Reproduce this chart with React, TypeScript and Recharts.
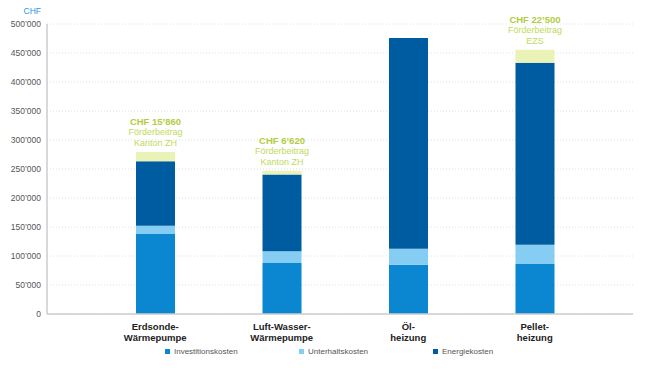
import React from 'react';
import { BarChart, Bar, XAxis, YAxis, CartesianGrid, LabelList, Label } from 'recharts';

const categories = ['Erdsonde-|Wärmepumpe', 'Luft-Wasser-|Wärmepumpe', 'Öl-|heizung', 'Pellet-|heizung'];
const investitionskosten = [138000, 88000, 85000, 86000];
const unterhaltskosten = [14000, 20000, 27500, 33500];
const energiekosten = [111500, 132500, 363500, 313500];
const foerderbeitrag = [15860, 6620, 0, 22500];
const foerderQuelle = ['Kanton ZH', 'Kanton ZH', '', 'EZS'];
const yTicks = [0, 50000, 100000, 150000, 200000, 250000, 300000, 350000, 400000, 450000, 500000];

const data = categories.map((name, i) => ({
  name,
  invest: investitionskosten[i],
  unterhalt: unterhaltskosten[i],
  energie: energiekosten[i],
  foerder: foerderbeitrag[i],
}));

const FONT = '"Liberation Sans", Arial, sans-serif';
const GREEN = '#b2cd3e';
const GREEN_LIGHT = '#c2da5c';

const fmt = (v: number) => {
  if (v === 0) return '0';
  const s = String(Math.round(v));
  return s.replace(/\B(?=(\d{3})+(?!\d))/g, '’');
};

const legendItems = [
  { label: 'Investitionskosten', color: '#0a87d0' },
  { label: 'Unterhaltskosten', color: '#85cdf3' },
  { label: 'Energiekosten', color: '#005ca1' },
];

const CategoryTick = (props: any) => {
  const { x, payload } = props;
  const lines = String(payload.value).split('|');
  return (
    <g>
      {lines.map((l: string, i: number) => (
        <text
          key={i}
          x={x}
          y={330 + i * 10.5}
          textAnchor="middle"
          fontFamily={FONT}
          fontWeight="bold"
          fontSize={9.5}
          fill="#222"
        >
          {l}
        </text>
      ))}
    </g>
  );
};

const FoerderLabel = (props: any) => {
  const { x, y, width, value } = props;
  const v = Number(value);
  if (!v) return null;
  const idx = foerderbeitrag.indexOf(v);
  const cx = x + width / 2;
  return (
    <g fontFamily={FONT} textAnchor="middle">
      <text x={cx} y={y - 27} fontSize={9.5} fontWeight="bold" fill={GREEN}>
        CHF {fmt(v)}
      </text>
      <text x={cx} y={y - 16.5} fontSize={9} fill={GREEN_LIGHT}>
        Förderbeitrag
      </text>
      <text x={cx} y={y - 6} fontSize={9} fill={GREEN_LIGHT}>
        {foerderQuelle[idx]}
      </text>
    </g>
  );
};

export default function App() {
  return (
    <div style={{ position: 'absolute', left: 0, top: 0, width: 660, height: 371, background: '#fff' }}>
      <BarChart
        width={660}
        height={371}
        data={data}
        margin={{ top: 24, right: 27, left: 0, bottom: 22 }}
      >
        <defs>
          <pattern id="hatch" width="2" height="2" patternUnits="userSpaceOnUse" patternTransform="rotate(45)">
            <rect width="2" height="2" fill="#f0f6c4" />
            <line x1="0" y1="0" x2="0" y2="2" stroke="#d8e88e" strokeWidth="1" />
          </pattern>
        </defs>
        <CartesianGrid vertical={false} stroke="#e0e0e0" strokeDasharray="1 2" />
        <XAxis
          dataKey="name"
          height={35}
          tick={<CategoryTick />}
          tickLine={false}
          axisLine={{ stroke: '#cccccc', strokeWidth: 1.5 }}
          padding={{ left: 45, right: 35 }}
          interval={0}
        />
        <YAxis
          width={47}
          domain={[0, 500000]}
          ticks={yTicks}
          tickFormatter={fmt}
          tickLine={false}
          tickSize={0}
          tickMargin={6}
          axisLine={{ stroke: '#cccccc', strokeWidth: 1.5 }}
          tick={{ fontSize: 8.5, fill: '#555', fontFamily: FONT }}
        >
          <Label
            content={(p: any) => (
              <text
                x={p.viewBox.x + p.viewBox.width - 6}
                y={p.viewBox.y - 10}
                textAnchor="end"
                fontSize={8.5}
                fontFamily={FONT}
                fill="#2f96dc"
              >
                CHF
              </text>
            )}
          />
        </YAxis>
        <Bar dataKey="invest" stackId="a" fill="#0a87d0" barSize={39} isAnimationActive={false} />
        <Bar dataKey="unterhalt" stackId="a" fill="#85cdf3" barSize={39} isAnimationActive={false} />
        <Bar dataKey="energie" stackId="a" fill="#005ca1" barSize={39} isAnimationActive={false} />
        <Bar dataKey="foerder" stackId="a" fill="url(#hatch)" barSize={39} isAnimationActive={false}>
          <LabelList dataKey="foerder" content={<FoerderLabel />} />
        </Bar>
      </BarChart>
      <div
        style={{
          position: 'absolute',
          left: 165,
          top: 347,
          display: 'flex',
          fontFamily: FONT,
          fontSize: 8,
          color: '#555',
        }}
      >
        {legendItems.map((it) => (
          <div key={it.label} style={{ width: 134, display: 'flex', alignItems: 'center' }}>
            <span style={{ width: 5, height: 5, background: it.color, marginRight: 4, display: 'inline-block' }} />
            {it.label}
          </div>
        ))}
      </div>
    </div>
  );
}
